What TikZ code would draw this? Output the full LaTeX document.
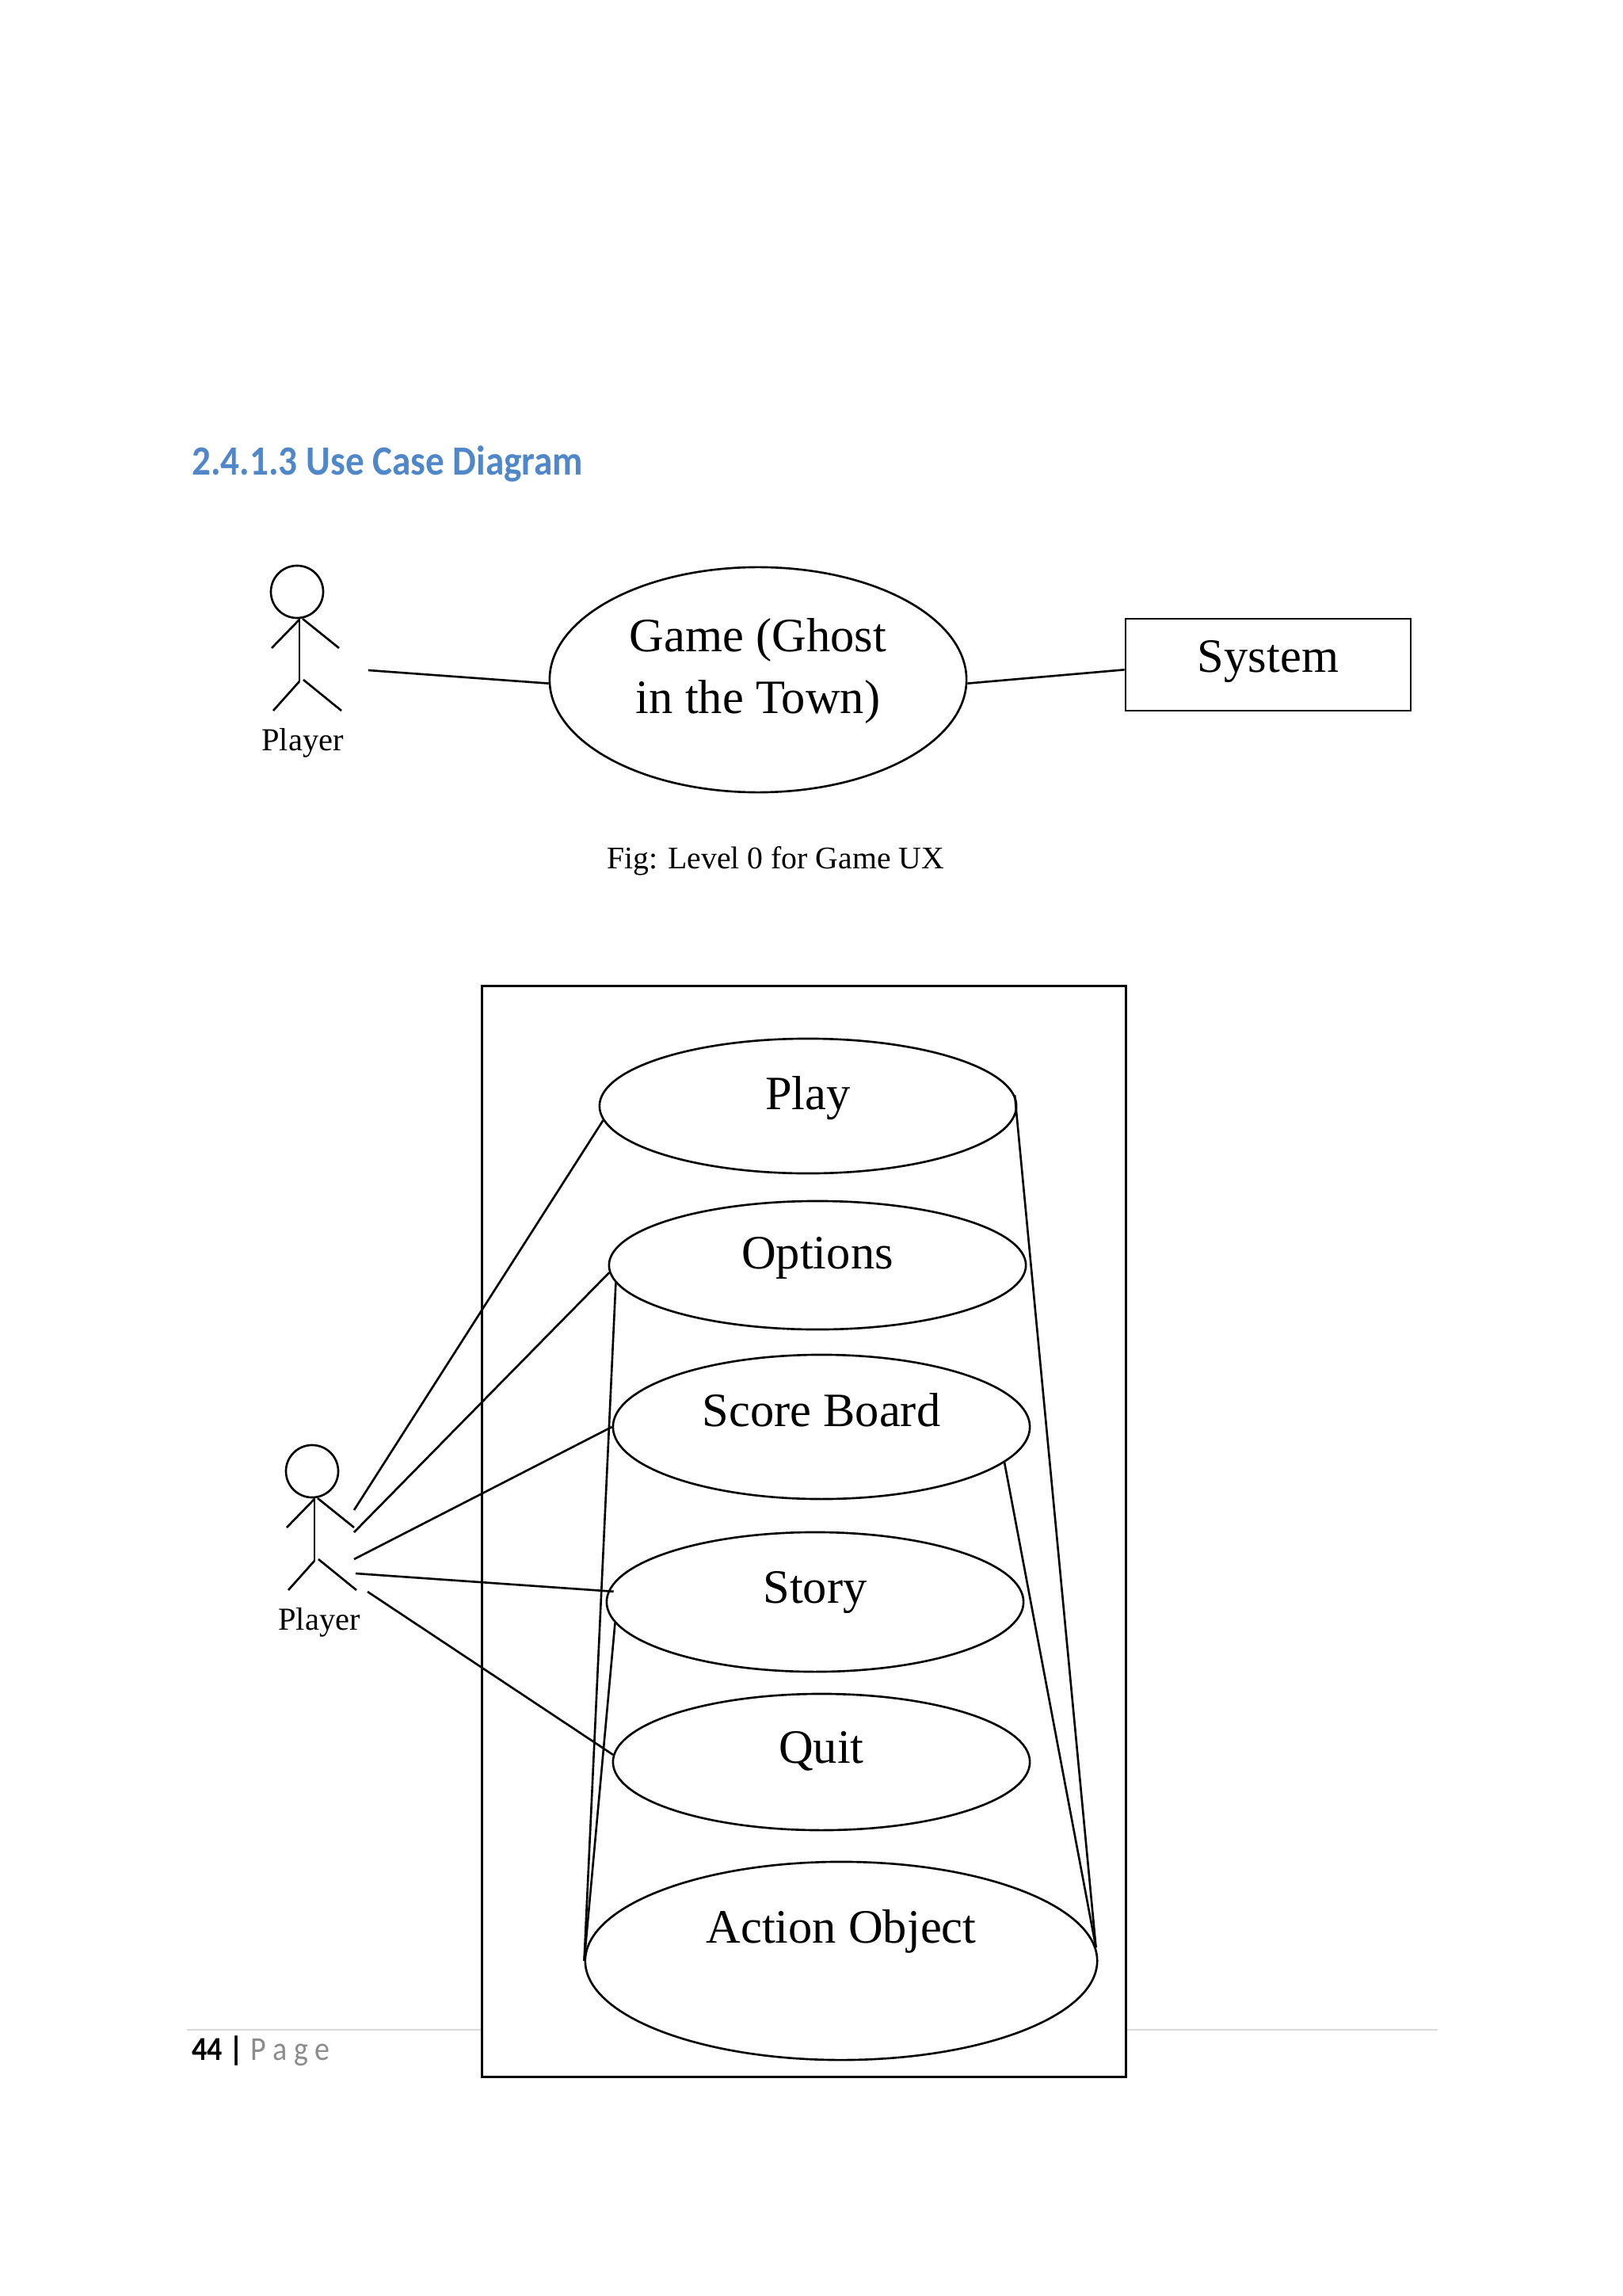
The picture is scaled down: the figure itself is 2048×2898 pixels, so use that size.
\documentclass[tikz,border=0pt]{standalone}
\usepackage{fontspec}
\usepackage{tikz}
\usetikzlibrary{shapes.geometric}
\setmainfont{Liberation Serif}
\newfontfamily\headfont[FakeStretch=0.9]{Carlito}
\definecolor{headblue}{HTML}{4F87C9}
\definecolor{footgray}{HTML}{8C8C8C}

\begin{document}
\begin{tikzpicture}[
        x=0.01cm, y=-0.01cm,
        line width=0.75pt,
        usecase/.style={
            ellipse,
            draw=black,
            inner sep=0pt,
            minimum width=5.26cm,
            text height=5mm,
            text centered,
            font=\fontsize{17.2}{22.7}\selectfont
        },
        sysbox/.style={
            rectangle,
            draw=black,
            minimum width=3.60cm,
            minimum height=1.16cm,
            text height=3.4mm,
            text depth=1.6mm,
            font=\fontsize{17.2}{22.7}\selectfont
        },
        actorname/.style={
            anchor=base,
            inner sep=0pt,
            font=\fontsize{11.5}{14}\selectfont
        },
        actor/.pic={
            \node (-head) [circle, draw=black, inner sep=0pt, minimum size=6.6cm/10] at (-3,-33) {};
            \draw (0,0) -- (0,80);
            \draw (0,2) -- (-35,38);
            \draw (4,1) -- (50,38);
            \draw (0,80) -- (-33,117);
            \draw (5,78) -- (53,117);
        }
    ]
    \useasboundingbox (0,0) rectangle (2048,2898);

    % Page
    \node (heading) [anchor=base west, inner sep=0pt, text=headblue, font=\headfont\bfseries\fontsize{14.9}{17}\selectfont] at (241,600) {2.4.1.3 Use Case Diagram};
    \coordinate (ruleleft) at (236,2562);
    \coordinate (ruleright) at (1815,2562);
    \draw [draw=black!15, line width=0.6pt] (ruleleft) -- (ruleright);
    \node (pageno) [anchor=base west, inner sep=0pt, font=\headfont\fontsize{12}{14}\selectfont] at (241,2600) {\textbf{44} \textbf{|} \textcolor{footgray}{P a g e}};

    % Level 0
    \pic (playerA) at (378,780) {actor};
    \node (playerAname) [actorname] at (382,948) {Player};
    \node (game) [usecase, minimum height=2.84cm, text height=9.8mm, align=center] at (957,858) {Game (Ghost\\[-0.4pt]in the Town)};
    \node (system) [sysbox] at (1601,839) {System};
    \node (caption) [actorname, font=\fontsize{11.3}{14}\selectfont] at (979,1096) {Fig: Level 0 for Game UX};
    \coordinate (playerAend) at (465,846);

    \draw (playerAend) -- (game.181);
    \draw (game.359) -- (system.182);

    % Level 1
    \node (frame) [rectangle, draw=black, fill=white, minimum width=8.12cm, minimum height=13.76cm] at (1015,1933) {};

    \pic (playerB) at (397,1890) {actor};
    \node (playerBname) [actorname] at (403,2057) {Player};

    \node (play) [usecase, minimum height=1.70cm, text depth=4.2mm] at (1020,1396) {Play};
    \node (options) [usecase, minimum height=1.62cm, text depth=4.1mm] at (1032,1597) {Options};
    \node (score) [usecase, minimum height=1.82cm, text depth=5.2mm] at (1037,1801) {Score Board};
    \node (story) [usecase, minimum height=1.76cm, text depth=4.8mm] at (1029,2022) {Story};
    \node (quit) [usecase, minimum height=1.72cm, text depth=4.8mm] at (1037,2224) {Quit};
    \node (action) [usecase, minimum width=6.46cm, minimum height=2.5cm, text depth=9.6mm] at (1062,2475) {Action Object};

    \coordinate (handa) at (447,1906);
    \coordinate (handb) at (447,1934);
    \coordinate (handc) at (447,1968);
    \coordinate (handd) at (449,1986);
    \coordinate (hande) at (464,2009);

    % Arrows
    \draw (handa) -- (play.184);
    \draw (handb) -- (options.182);
    \draw (handc) -- (score.180);
    \draw [shorten >=-2pt] (handd) -- (story.177);
    \draw (hande) -- (quit.178);

    \draw (options.185) -- (action.west);
    \draw (story.186) -- (action.west);
    \draw (play.3) -- (action.3);
    \draw (score.349) -- (action.3);

\end{tikzpicture}
\end{document}
